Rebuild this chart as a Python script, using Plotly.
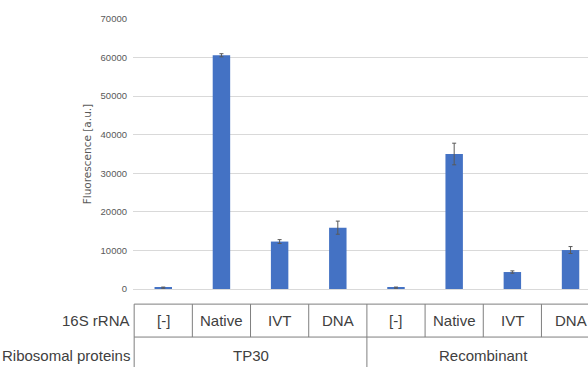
import plotly.graph_objects as go

rna_labels = ["[-]", "Native", "IVT", "DNA", "[-]", "Native", "IVT", "DNA"]
protein_groups = ["TP30", "Recombinant"]
group_sizes = [4, 4]
values = [350, 60600, 12300, 15900, 350, 35000, 4400, 10100]
errors = [150, 400, 500, 1700, 150, 2800, 300, 900]
y_ticks = [0, 10000, 20000, 30000, 40000, 50000, 60000, 70000]
row_titles = ["16S rRNA", "Ribosomal proteins"]

x_idx = list(range(len(rna_labels)))

TXT = "#404040"
LINE = "#7f7f7f"
SANS = "Liberation Sans, Arial, sans-serif"

fig = go.Figure(go.Bar(
    x=x_idx, y=values, width=0.3,
    marker=dict(color="#4472C4", line=dict(width=0)),
    error_y=dict(type="data", array=errors, visible=True, color="#595959",
                 thickness=1, width=2),
))

# table geometry in paper coordinates (plot area height = 270 px)
row1_top, row1_bot, row2_bot = -0.056, -0.178, -0.32
row1_mid, row2_mid = -0.115, -0.245

shapes = []
n = len(rna_labels)
for yy in (row1_top, row1_bot):
    shapes.append(dict(type="line", xref="x", yref="paper", x0=-0.5, x1=n - 0.5,
                       y0=yy, y1=yy, line=dict(color=LINE, width=1)))
for k in range(n + 1):
    shapes.append(dict(type="line", xref="x", yref="paper", x0=k - 0.5, x1=k - 0.5,
                       y0=row1_top, y1=row1_bot, line=dict(color=LINE, width=1)))
b = -0.5
bounds = [b]
for s in group_sizes:
    b += s
    bounds.append(b)
for xb in bounds:
    shapes.append(dict(type="line", xref="x", yref="paper", x0=xb, x1=xb,
                       y0=row1_bot, y1=row2_bot, line=dict(color=LINE, width=1)))

annotations = []
for i, lab in enumerate(rna_labels):
    annotations.append(dict(x=i, y=row1_mid, xref="x", yref="paper", text=lab,
                            showarrow=False, xanchor="center", yanchor="middle",
                            font=dict(family=SANS, size=15, color=TXT)))
start = 0
for g, s in zip(protein_groups, group_sizes):
    annotations.append(dict(x=start + (s - 1) / 2, y=row2_mid, xref="x", yref="paper",
                            text=g, showarrow=False, xanchor="center", yanchor="middle",
                            font=dict(family=SANS, size=15, color=TXT)))
    start += s
for t, yy in zip(row_titles, (row1_mid, row2_mid)):
    annotations.append(dict(x=0, y=yy, xref="paper", yref="paper", text=t,
                            showarrow=False, xanchor="right", yanchor="middle", xshift=-1,
                            font=dict(family=SANS, size=15, color=TXT)))

fig.update_layout(
    width=588, height=367,
    margin=dict(l=133, r=0, t=19, b=78),
    paper_bgcolor="white", plot_bgcolor="white",
    showlegend=False,
    shapes=shapes, annotations=annotations,
    xaxis=dict(range=[-0.52, 7.30], showticklabels=False, showgrid=False,
               zeroline=False, showline=False, ticks=""),
    yaxis=dict(range=[0, 70000], tickvals=y_ticks, ticktext=[str(v) for v in y_ticks],
               showgrid=True, gridcolor="#d9d9d9", gridwidth=1,
               zeroline=True, zerolinecolor="#d9d9d9", zerolinewidth=1,
               showline=False, ticks="", ticklabelstandoff=5,
               tickfont=dict(family=SANS, size=9.5, color="#595959"),
               title=dict(text="Fluorescence [a.u.]", standoff=6,
                          font=dict(family="DejaVu Sans", size=10.5, color="#595959"))),
)

fig.write_html("out.html", config={"displayModeBar": False},
               post_script="document.body.style.margin='0';document.body.style.overflow='hidden';")
